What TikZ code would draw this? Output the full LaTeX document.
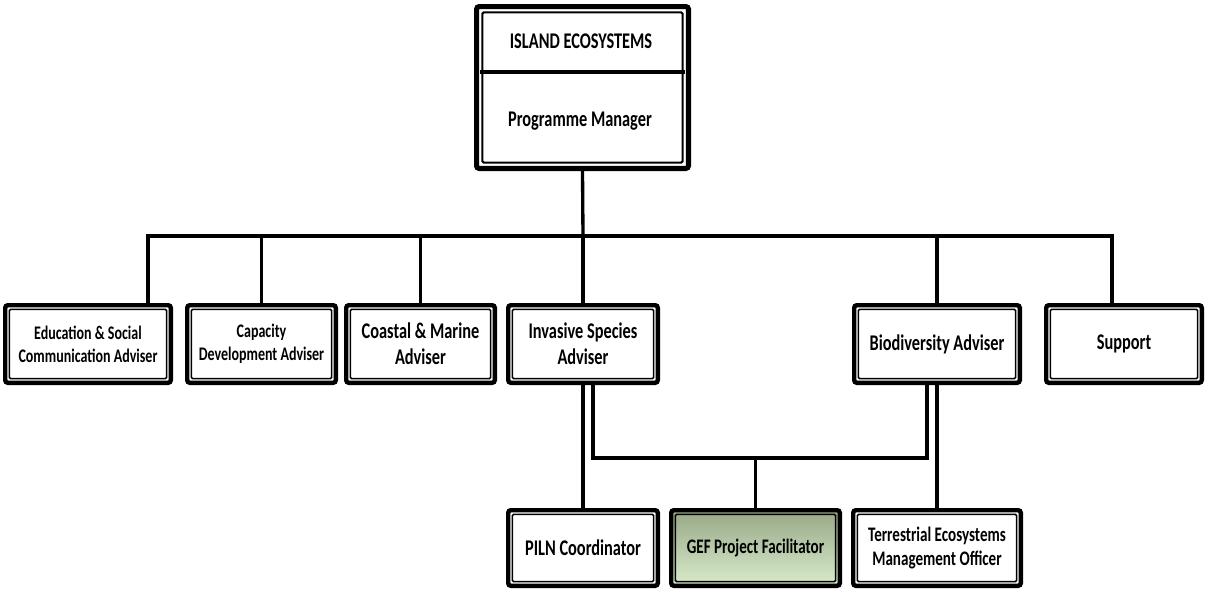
\documentclass[tikz,border=0pt]{standalone}
\usepackage{fontspec}
\setmainfont{Carlito}[FakeStretch=0.73]
\begin{document}
\begin{tikzpicture}[x=0.75pt,y=-0.75pt,
  bx/.style 2 args={draw=black, line width=3.3pt, rounded corners=2pt, fill=white,
    minimum width={#1*0.75pt-3.3pt}, minimum height={#2*0.75pt-3.3pt}, inner sep=0pt,
    align=center, text=black,
    path picture={\draw[line width=1.1pt, rounded corners=1pt]
      ([shift={(3.1pt,3.1pt)}]path picture bounding box.south west) rectangle
      ([shift={(-3.1pt,-3.1pt)}]path picture bounding box.north east);}},
  topbx/.style 2 args={draw=black, line width=3.8pt, rounded corners=2pt, fill=white,
    minimum width={#1*0.75pt-3.8pt}, minimum height={#2*0.75pt-3.8pt}, inner sep=0pt,
    path picture={\draw[line width=1.6pt, rounded corners=1pt]
      ([shift={(4.4pt,4.4pt)}]path picture bounding box.south west) rectangle
      ([shift={(-4.4pt,-4.4pt)}]path picture bounding box.north east);}},
  big/.style={font=\fontsize{16.8}{19.5}\selectfont\bfseries},
  med/.style={font=\fontsize{15.5}{18.5}\selectfont\bfseries},
  small/.style={font=\fontsize{14.4}{17.5}\selectfont\bfseries},
  gefcol/.style={top color={rgb,255:red,152;green,168;blue,136}, bottom color={rgb,255:red,216;green,236;blue,202}},
  conn/.style={draw=black, line width=2.5pt}
]
\useasboundingbox (0,0) rectangle (1208,590);

% top box
\node[topbx={217}{167}] (top) at (582.5,87.5) {};
\coordinate (div) at (583,72);
\path ([xshift=4.4pt]top.west) coordinate (dl) ([xshift=-4.4pt]top.east) coordinate (dr);
\draw[line width=2.6pt] (dl |- div) -- (dr |- div);
\node[big] (t1) at (581,41) {ISLAND ECOSYSTEMS};
\node[big] (t2) at (580,121) {Programme Manager};

% middle row
\node[bx={170}{82}, small] (edu) at (88,344) {Education \& Social\\Communication Adviser};
\node[bx={153}{82}, small] (cap) at (261.5,344) {Capacity\\Development Adviser};
\node[bx={153}{82}, big] (coa) at (420.5,344) {Coastal \& Marine\\Adviser};
\node[bx={154}{82}, big] (inv) at (583,344) {Invasive Species\\Adviser};
\node[bx={170}{82}, big] (bio) at (937,344) {Biodiversity Adviser};
\node[bx={160}{82}, big] (sup) at (1124,344) {Support};

% bottom row
\node[bx={154}{80}, big] (piln) at (583,548) {PILN Coordinator};
\node[bx={173}{80}, med, gefcol] (gef) at (755.5,548) {GEF Project Facilitator};
\node[bx={172}{80}, med] (ter) at (937,548) {Terrestrial Ecosystems\\Management Officer};

% connectors
\coordinate (bus) at (583,236);
\coordinate (gbus) at (756,458);
\draw[conn] (top.south) -- (bus);
\draw[conn] ([xshift=45pt]edu.north) |- (bus) -| ([xshift=-9pt]sup.north);
\draw[conn] (cap.north) -- (cap.north |- bus);
\draw[conn] (coa.north) -- (coa.north |- bus);
\draw[conn] (inv.north) -- (inv.north |- bus);
\draw[conn] (bio.north) -- (bio.north |- bus);
\draw[conn] (inv.south) -- (piln.north);
\draw[conn] ([xshift=7.5pt]inv.south) |- (gbus) -| ([xshift=-7.5pt]bio.south);
\draw[conn] (gef.north) -- (gef.north |- gbus);
\draw[conn] (bio.south) -- (ter.north);
\end{tikzpicture}
\end{document}
